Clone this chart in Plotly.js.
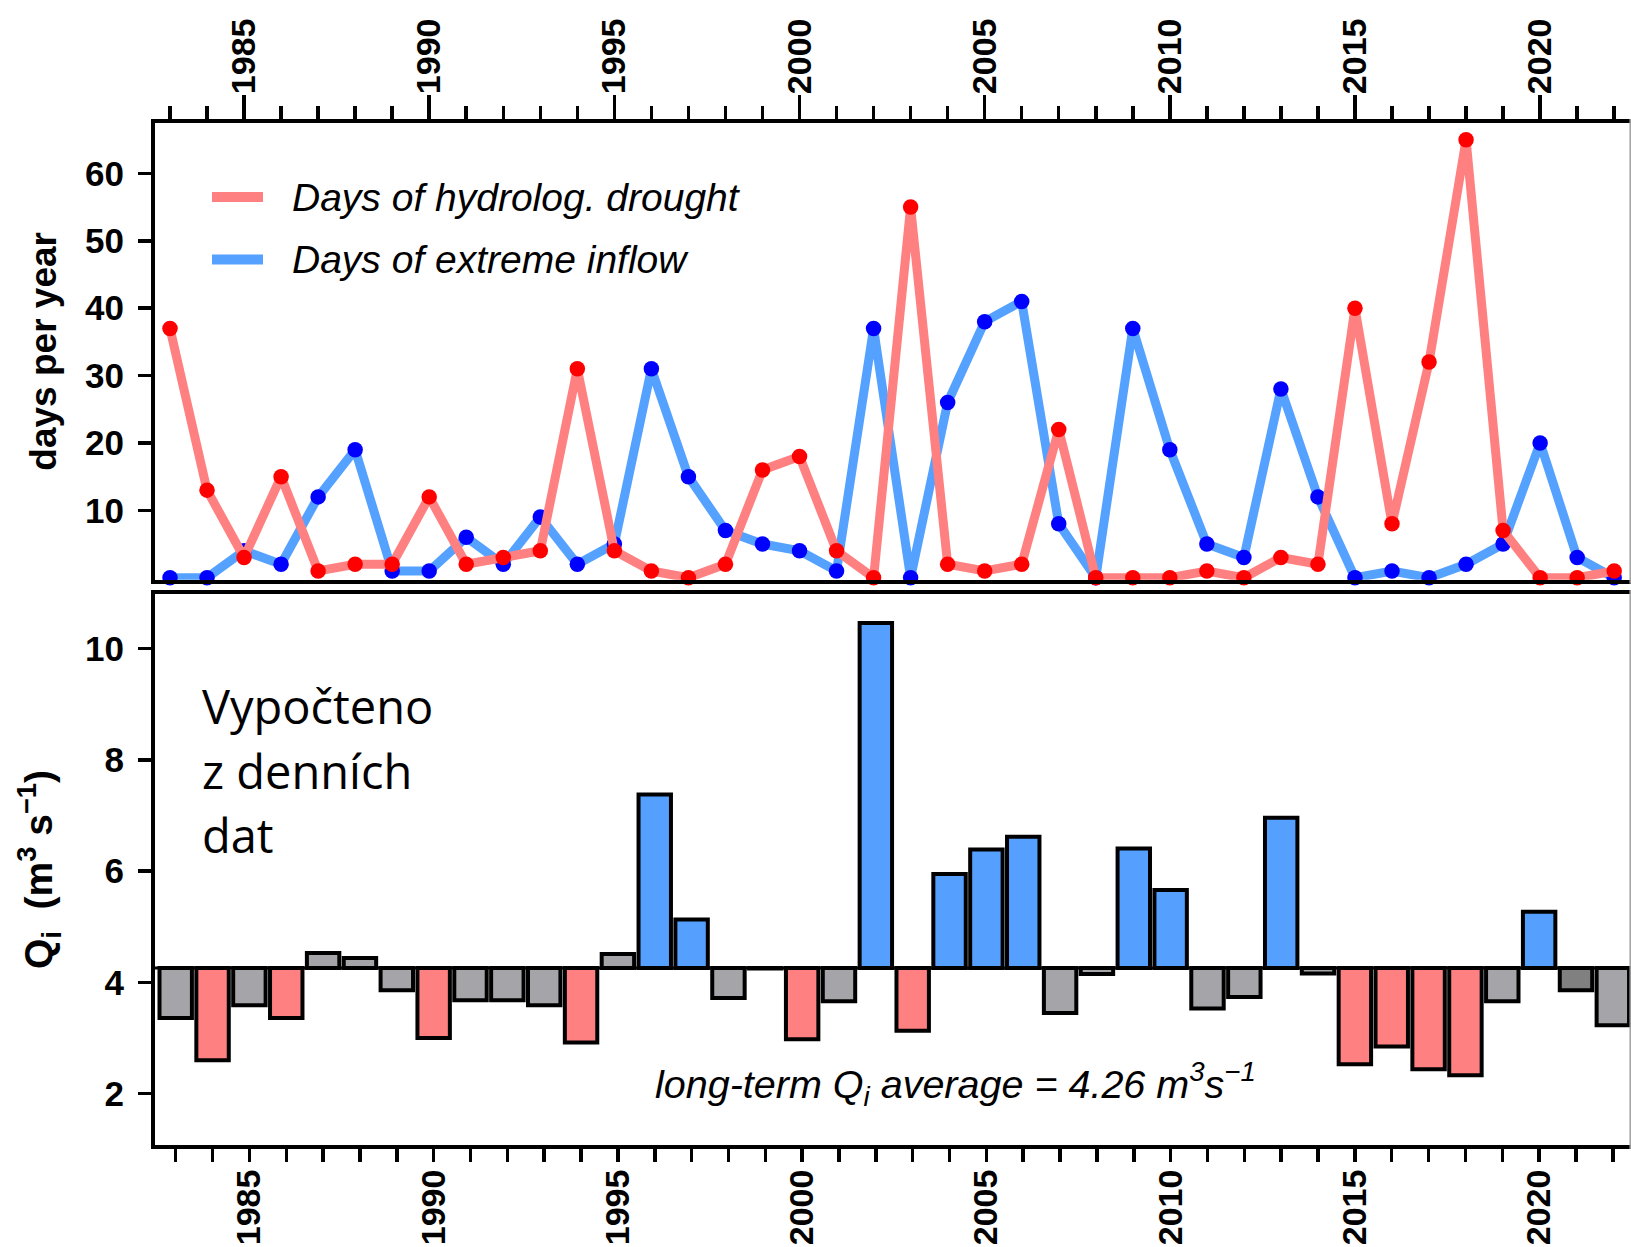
<!DOCTYPE html>
<html>
<head>
<meta charset="utf-8">
<script src="https://cdn.plot.ly/plotly-3.0.1.min.js"></script>
<style>
  html, body { margin: 0; padding: 0; background: #fff; }
  #chart { width: 1631px; height: 1247px; }
</style>
</head>
<body>
<div id="chart"></div>
<script>
// ---- data -------------------------------------------------------------
const years = [1983, 1984, 1985, 1986, 1987, 1988, 1989, 1990, 1991, 1992,
               1993, 1994, 1995, 1996, 1997, 1998, 1999, 2000, 2001, 2002,
               2003, 2004, 2005, 2006, 2007, 2008, 2009, 2010, 2011, 2012,
               2013, 2014, 2015, 2016, 2017, 2018, 2019, 2020, 2021, 2022];

// days per year in hydrological drought
const droughtDays = [37, 13, 3, 15, 1, 2, 2, 12, 2, 3,
                     4, 31, 4, 1, 0, 2, 16, 18, 4, 0,
                     55, 2, 1, 2, 22, 0, 0, 0, 1, 0,
                     3, 2, 40, 8, 32, 65, 7, 0, 0, 1];

// days per year with extreme inflow
const inflowDays = [0, 0, 4, 2, 12, 19, 1, 1, 6, 2,
                    9, 2, 5, 31, 15, 7, 5, 4, 1, 37,
                    0, 26, 38, 41, 8, 0, 37, 19, 5, 3,
                    28, 12, 0, 1, 0, 2, 5, 20, 3, 0];

// mean annual inflow Qi (m3/s), computed from daily data
const annualQ = [3.36, 2.60, 3.59, 3.36, 4.53, 4.44, 3.86, 3.00, 3.68, 3.68,
                 3.59, 2.92, 4.51, 7.38, 5.13, 3.72, 4.25, 2.98, 3.66, 10.46,
                 3.13, 5.95, 6.39, 6.62, 3.45, 4.15, 6.41, 5.66, 3.53, 3.74,
                 6.96, 4.16, 2.53, 2.85, 2.44, 2.33, 3.66, 5.27, 3.86, 3.23];

// long-term average of Qi (m3/s)
const meanQ = 4.26;

// year type: D = drought year, W = wet year, N = normal, M = normal (marked)
const yearType = ['N', 'D', 'N', 'D', 'N', 'N', 'N', 'D', 'N', 'N',
                  'N', 'D', 'N', 'W', 'W', 'N', 'N', 'D', 'N', 'W',
                  'D', 'W', 'W', 'W', 'N', 'N', 'W', 'W', 'N', 'N',
                  'W', 'N', 'D', 'D', 'D', 'D', 'N', 'W', 'M', 'N'];

const yTicksDays = [10, 20, 30, 40, 50, 60];
const yTicksQ = [2, 4, 6, 8, 10];

// ---- styling ----------------------------------------------------------
const W = 1631, H = 1247;
const px = v => v / W;          // pixel -> paper x
const py = v => 1 - v / H;      // pixel -> paper y

const RED_LINE = '#FF8080', RED_DOT = '#FF0000';
const BLUE_LINE = '#55A1FF', BLUE_DOT = '#0000FF';
const typeColor = { D: '#FF8080', W: '#55A0FF', N: '#A5A5A9', M: '#808080' };

const FONT = 'Liberation Sans, Arial, Helvetica, sans-serif';
const xTickFont = { family: FONT, size: 34, color: '#000', weight: 'bold' };
const yTickFont = { family: FONT, size: 35, color: '#000', weight: 'bold' };

const lineW = 9, dotSize = 15.5;

function lineTrace(y, color, name) {
  return { type: 'scatter', mode: 'lines', x: years, y: y, name: name,
           line: { color: color, width: lineW }, xaxis: 'x', yaxis: 'y',
           showlegend: false, hoverinfo: 'skip' };
}
function dotTrace(y, color, name) {
  return { type: 'scatter', mode: 'markers', x: years, y: y, name: name,
           marker: { color: color, size: dotSize }, cliponaxis: false,
           xaxis: 'x', yaxis: 'y', showlegend: false };
}

const traces = [
  lineTrace(inflowDays, BLUE_LINE, 'Days of extreme inflow'),
  dotTrace(inflowDays, BLUE_DOT, 'Days of extreme inflow'),
  lineTrace(droughtDays, RED_LINE, 'Days of hydrolog. drought'),
  dotTrace(droughtDays, RED_DOT, 'Days of hydrolog. drought'),
  {
    type: 'bar', x: years,
    y: annualQ.map(v => v - meanQ), base: meanQ,
    width: 0.88,
    marker: { color: yearType.map(t => typeColor[t]), line: { color: '#000', width: 4 } },
    xaxis: 'x2', yaxis: 'y2', showlegend: false, name: 'Qi'
  }
];

const commonX = {
  domain: [px(155), 1],
  tickmode: 'linear', tick0: 1985, dtick: 5,
  ticks: 'outside', tickcolor: '#000', tickwidth: 3.5,
  tickangle: -90, tickfont: xTickFont, ticklabelstandoff: -6,
  showline: true, linecolor: '#000', linewidth: 4, mirror: true,
  showgrid: false, zeroline: false, fixedrange: true
};

const commonY = {
  tickmode: 'array',
  ticks: 'outside', ticklen: 13, tickwidth: 3.5, tickcolor: '#000',
  tickfont: yTickFont, ticklabelstandoff: 7,
  showline: true, linecolor: '#000', linewidth: 4, mirror: true,
  showgrid: false, zeroline: false, fixedrange: true
};

const layout = {
  width: W, height: H,
  margin: { l: 0, r: 0, t: 0, b: 0 },
  paper_bgcolor: '#fff', plot_bgcolor: '#fff',
  font: { family: FONT, color: '#000' },
  showlegend: false,
  bargap: 0,
  xaxis: Object.assign({}, commonX, {
    anchor: 'y', side: 'top', range: [1982.595, 2022.454], ticklen: 24,
    minor: { tick0: 1983, dtick: 1, ticks: 'outside', ticklen: 13, tickwidth: 3.5, tickcolor: '#000' }
  }),
  xaxis2: Object.assign({}, commonX, {
    anchor: 'y2', side: 'bottom', range: [1982.438, 2022.493], ticklen: 13,
    minor: { tick0: 1983, dtick: 1, ticks: 'outside', ticklen: 13, tickwidth: 3.5, tickcolor: '#000' }
  }),
  yaxis: Object.assign({}, commonY, {
    anchor: 'x', domain: [py(579.7), py(123)], range: [-0.29, 67.48],
    tickvals: yTicksDays,
    title: { text: 'days per year', font: { family: FONT, size: 37, weight: 'bold' }, standoff: 18 }
  }),
  yaxis2: Object.assign({}, commonY, {
    anchor: 'x2', domain: [py(1145), py(594)], range: [1.078, 10.983],
    tickvals: yTicksQ,
    title: { text: 'Q<sub>i</sub>\u00a0\u00a0(m<sup>3</sup> s<sup>\u22121</sup>)',
             font: { family: FONT, size: 39, weight: 'bold' }, standoff: 21 }
  }),
  shapes: [
    // long-term mean reference line
    { type: 'line', xref: 'x2 domain', x0: 0, x1: 1, yref: 'y2', y0: meanQ, y1: meanQ,
      line: { color: '#000', width: 3 }, layer: 'below' },
    // legend line samples
    { type: 'line', xref: 'paper', yref: 'paper', x0: px(212), x1: px(263), y0: py(197), y1: py(197),
      line: { color: RED_LINE, width: 10 } },
    { type: 'line', xref: 'paper', yref: 'paper', x0: px(212), x1: px(263), y0: py(259.5), y1: py(259.5),
      line: { color: BLUE_LINE, width: 10 } },
    // right edge of the frames
    { type: 'line', xref: 'paper', yref: 'paper', x0: px(1630.2), x1: px(1630.2), y0: py(119), y1: py(583.7),
      line: { color: '#a0a0a0', width: 1.5 } },
    { type: 'line', xref: 'paper', yref: 'paper', x0: px(1630.2), x1: px(1630.2), y0: py(590), y1: py(1149),
      line: { color: '#a0a0a0', width: 1.5 } }
  ],
  annotations: [
    { xref: 'paper', yref: 'paper', x: px(290), y: py(197), xanchor: 'left', yanchor: 'middle',
      text: 'Days of hydrolog. drought', showarrow: false,
      font: { family: FONT, size: 39, style: 'italic', color: '#000' } },
    { xref: 'paper', yref: 'paper', x: px(290), y: py(259.5), xanchor: 'left', yanchor: 'middle',
      text: 'Days of extreme inflow', showarrow: false,
      font: { family: FONT, size: 39, style: 'italic', color: '#000' } },
    { xref: 'paper', yref: 'paper', x: px(200), y: py(705.5), xanchor: 'left', yanchor: 'middle',
      text: 'Vypočteno', showarrow: false, font: { family: 'Open Sans', size: 47, color: '#000' } },
    { xref: 'paper', yref: 'paper', x: px(200), y: py(770.5), xanchor: 'left', yanchor: 'middle',
      text: 'z denních', showarrow: false, font: { family: 'Open Sans', size: 47, color: '#000' } },
    { xref: 'paper', yref: 'paper', x: px(200), y: py(835), xanchor: 'left', yanchor: 'middle',
      text: 'dat', showarrow: false, font: { family: 'Open Sans', size: 47, color: '#000' } },
    { xref: 'paper', yref: 'paper', x: px(955), y: py(1084), xanchor: 'center', yanchor: 'middle',
      text: 'long-term Q<sub>i</sub> average = ' + meanQ.toFixed(2) + ' m<sup>3</sup>s<sup>\u22121</sup>',
      showarrow: false, font: { family: FONT, size: 39.5, style: 'italic', color: '#000' } }
  ]
};

Plotly.newPlot('chart', traces, layout, { staticPlot: true, displayModeBar: false });
</script>
</body>
</html>
